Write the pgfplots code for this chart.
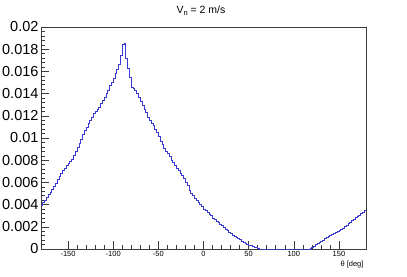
\documentclass[border=0pt]{standalone}
\usepackage{fontspec}
\setmainfont{Liberation Sans}
\usepackage{pgfplots}
\pgfplotsset{compat=1.18}
\usepackage{pgfplotstable}
\definecolor{histblue}{RGB}{56,56,210}
\definecolor{framegray}{RGB}{60,60,60}

\pgfplotstableread{
x y
-180 0.00392
-178 0.00416
-176 0.00440
-174 0.00464
-172 0.00488
-170 0.00513
-168 0.00540
-166 0.00567
-164 0.00594
-162 0.00623
-160 0.00652
-158 0.00681
-156 0.00710
-154 0.00730
-152 0.00750
-150 0.00770
-148 0.00790
-146 0.00810
-144 0.00839
-142 0.00876
-140 0.00913
-138 0.00950
-136 0.00990
-134 0.01030
-132 0.01070
-130 0.01100
-128 0.01130
-126 0.01160
-124 0.01190
-122 0.01220
-120 0.01240
-118 0.01260
-116 0.01280
-114 0.01310
-112 0.01340
-110 0.01370
-108 0.01400
-106 0.01430
-104 0.01470
-102 0.01500
-100 0.01540
-98 0.01580
-96 0.01620
-94 0.01660
-92 0.01740
-90 0.01845
-88 0.01850
-86 0.01720
-84 0.01630
-82 0.01550
-80 0.01460
-78 0.01450
-76 0.01430
-74 0.01400
-72 0.01370
-70 0.01330
-68 0.01290
-66 0.01260
-64 0.01230
-62 0.01190
-60 0.01160
-58 0.01130
-56 0.01110
-54 0.01080
-52 0.01050
-50 0.01010
-48 0.00970
-46 0.00940
-44 0.00910
-42 0.00880
-40 0.00860
-38 0.00830
-36 0.00800
-34 0.00780
-32 0.00750
-30 0.00730
-28 0.00710
-26 0.00680
-24 0.00660
-22 0.00640
-20 0.00600
-18 0.00570
-16 0.00530
-14 0.00500
-12 0.00480
-10 0.00460
-8 0.00440
-6 0.00420
-4 0.00400
-2 0.00380
0 0.00360
2 0.00350
4 0.00330
6 0.00310
8 0.00300
10 0.00280
12 0.00270
14 0.00250
16 0.00240
18 0.00220
20 0.00210
22 0.00193
24 0.00180
26 0.00166
28 0.00153
30 0.00140
32 0.00126
34 0.00115
36 0.00104
38 0.00093
40 0.00082
42 0.00071
44 0.00062
46 0.00052
48 0.00043
50 0.00035
52 0.00028
54 0.00022
56 0.00017
58 0.00012
60 0.00005
62 0
64 0
66 0
68 0
70 0
72 0
74 0
76 0
78 0
80 0
82 0
84 0
86 0
88 0
90 0
92 0
94 0
96 0
98 0
100 0
102 0
104 0
106 0
108 0
110 0
112 0
114 0
116 0
118 0.00005
120 0.00016
122 0.00027
124 0.00037
126 0.00048
128 0.00059
130 0.00070
132 0.00080
134 0.00091
136 0.00101
138 0.00110
140 0.00120
142 0.00129
144 0.00139
146 0.00148
148 0.00158
150 0.00167
152 0.00177
154 0.00186
156 0.00200
158 0.00214
160 0.00228
162 0.00241
164 0.00255
166 0.00269
168 0.00283
170 0.00294
172 0.00306
174 0.00318
176 0.00330
178 0.00347
180 0.00347
}\datatable

\begin{document}
\begin{tikzpicture}
\path[use as bounding box, fill=white] (0,0) rectangle (407pt,276pt);
\begin{axis}[
  at={(41pt,27pt)}, anchor=south west,
  scale only axis, width=325pt, height=222pt,
  xmin=-180, xmax=180, ymin=0, ymax=0.02,
  xtick={-150,-100,-50,0,50,100,150},
  ytick={0,0.002,0.004,0.006,0.008,0.01,0.012,0.014,0.016,0.018,0.02},
  minor x tick num=4,
  minor y tick num=4,
  xtick pos=bottom, ytick pos=left,
  tick align=inside,
  major tick length=8pt, minor tick length=4pt,
  tick style={framegray, line width=0.5pt},
  axis line style={framegray, line width=0.7pt},
  scaled y ticks=false,
  /pgf/number format/assume math mode=true,
  yticklabel style={/pgf/number format/fixed, /pgf/number format/precision=3, font=\fontsize{14.5}{15}\selectfont, xshift=1pt},
  xticklabel style={font=\fontsize{7.5}{8}\selectfont, yshift=1pt},
  clip=false,
]
\addplot[const plot mark left, histblue, line width=0.8pt] table[x=x, y=y] {\datatable};
\end{axis}
\node[font=\fontsize{10.5}{12}\selectfont] at (201pt,265.5pt) {V\raisebox{-0.35ex}{\fontsize{7.5}{8}\selectfont n} = 2 m/s};
\node[anchor=east, font=\fontsize{7.5}{8}\selectfont] at (367pt,11pt) {θ [deg]};
\end{tikzpicture}
\end{document}
